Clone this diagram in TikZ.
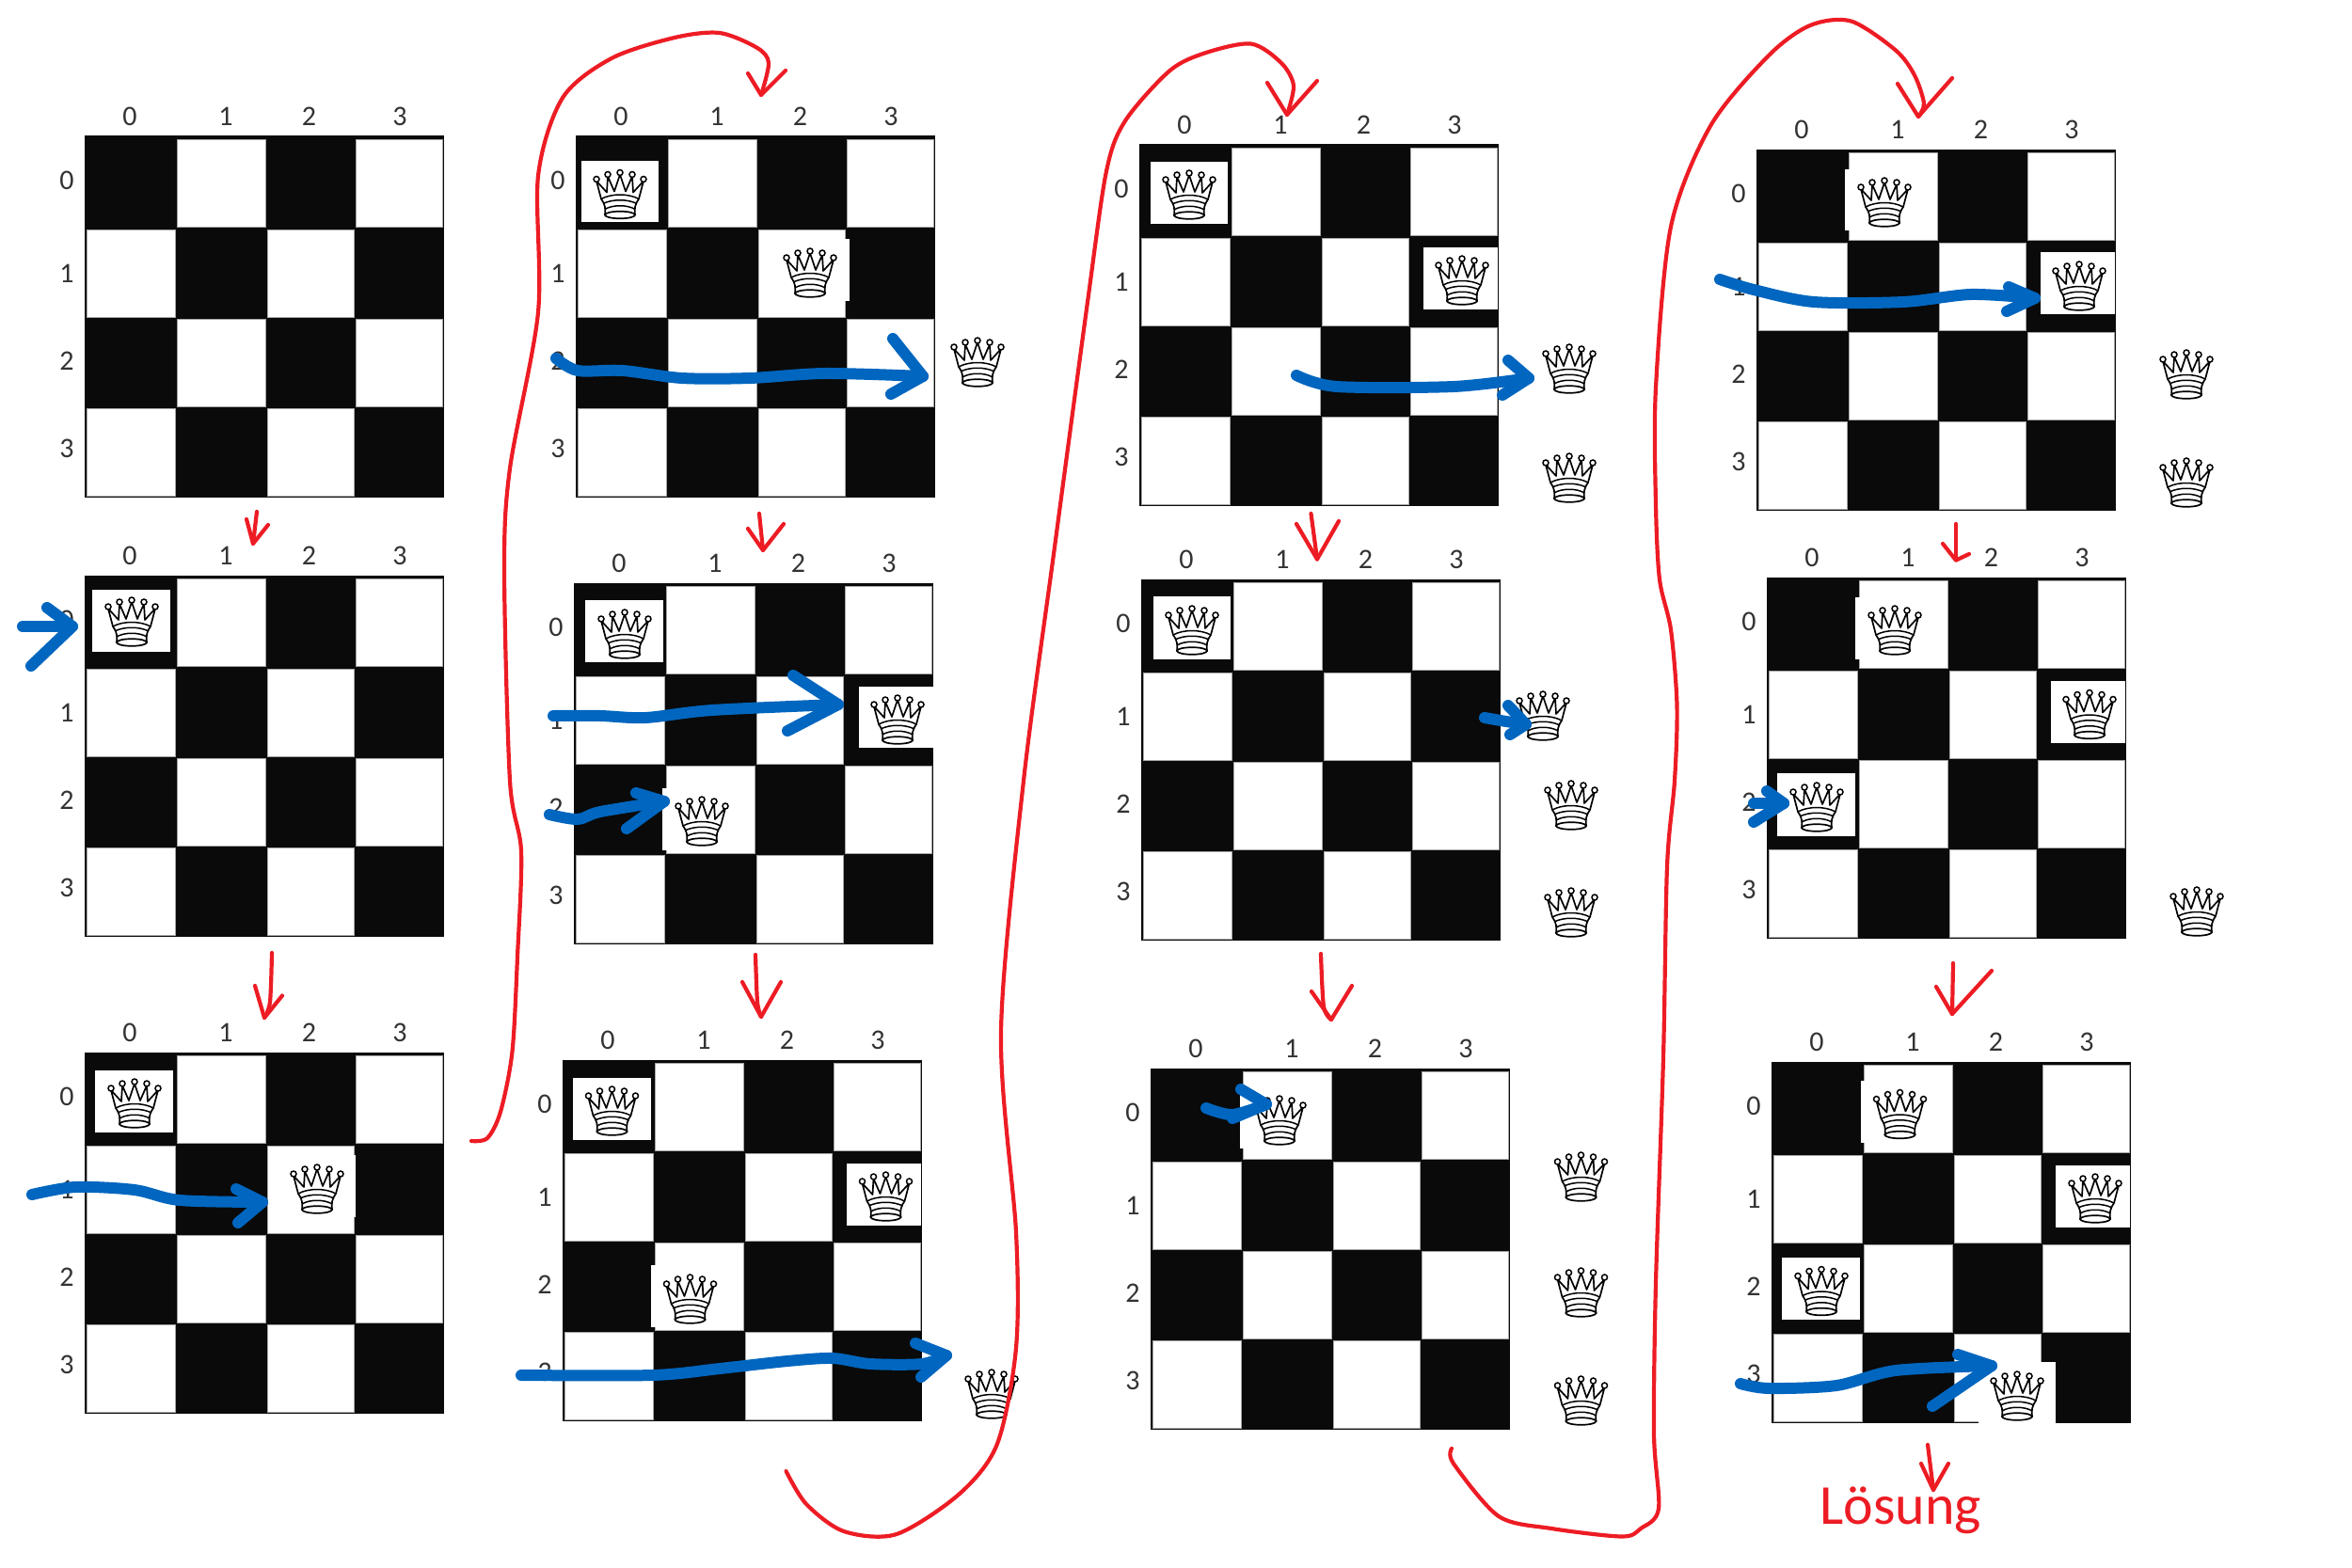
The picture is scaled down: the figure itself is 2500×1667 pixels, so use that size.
\documentclass[tikz,border=0pt]{standalone}
\usepackage{fontspec}
\setmainfont{Carlito}
\usepackage{tikz}
\definecolor{boardblack}{HTML}{0A0A0A}
\definecolor{inkred}{HTML}{ED1C24}
\definecolor{inkblue}{HTML}{0066BF}
\tikzset{
    boardframe/.style = {draw=boardblack, fill=boardblack, line width=1pt, minimum width=381pt, minimum height=383pt, inner sep=0pt, outer sep=0pt},
    whitecell/.style = {fill=white, draw=black!35, line width=0.8pt},
    digit/.style = {font=\fontsize{30}{30}\selectfont, text=black!80, inner sep=0pt},
    tile/.style = {fill=white},
    redpen/.style = {draw=inkred, line width=4.2pt, line cap=round, line join=round},
    bluepen/.style = {draw=inkblue, line width=12pt, line cap=round, line join=round},
    queen/.pic = {
        \draw[line width=1.7pt, fill=white, line join=round]
            (-20,5) -- (-25,-14) -- (-14,-2) -- (-13,-19) -- (-6,-3) -- (0,-21) -- (6,-3) -- (13,-19) -- (14,-2) -- (25,-14) -- (20,5)
            .. controls (16,10) and (15,16) .. (16,22) -- (-16,22) .. controls (-15,16) and (-16,10) .. (-20,5) -- cycle;
        \foreach \bx/\by in {-25/-16,-13/-21,0/-23,13/-21,25/-16}
            \draw[line width=1.5pt, fill=white] (\bx,\by) circle (3);
        \draw[line width=1.5pt] (-20,5) .. controls (-9,-1) and (9,-1) .. (20,5);
        \draw[line width=1.5pt] (-18,10) .. controls (-8,5) and (8,5) .. (18,10);
        \draw[line width=1.5pt] (-16,16) .. controls (-8,11) and (8,11) .. (16,16);
        \draw[line width=1.7pt, fill=white] (0,22) ellipse (16 and 3.8);
    },
}
\newcommand\drawboard[3]{
    \begin{scope}[shift={(#2,#3)}]
        \node[boardframe] (#1) at (190.5,191.5) {};
        \foreach \xa/\ya/\xb/\yb in {98/3/192/96.5,288/3/380/96.5,2/99/96/192,194/99/286/192,98/194/192/287,288/194/380/287,2/289/96/382,194/289/286/382}
            \path[whitecell] (\xa,\ya) rectangle (\xb,\yb);
        \foreach \col/\cx in {0/48,1/150,2/238.5,3/335}
            \node[digit] (#1c\col) at (\cx,-21) {\col};
        \foreach \row/\ry in {0/47,1/145.5,2/238.5,3/331.5}
            \node[digit] (#1r\row) at (-19,\ry) {\row};
    \end{scope}
}
\newcommand\handarrow[7]{
    \coordinate (#2from) at #3;
    \coordinate (#2to) at #6;
    \coordinate (#2a) at #5;
    \coordinate (#2b) at #7;
    \draw[#1] plot[smooth] coordinates {(#2from) #4 (#2to)};
    \draw[#1] (#2a) -- (#2to) -- (#2b);
}

\begin{document}
\begin{tikzpicture}[x=1pt,y=-1pt]
    \useasboundingbox (0,0) rectangle (2500,1667);
    % boards
    \drawboard{bone}{90}{145}
    \drawboard{btwo}{90}{612}
    \drawboard{bthree}{90}{1119}
    \drawboard{bfour}{612}{145}
    \drawboard{bfive}{610}{620}
    \drawboard{bsix}{598}{1127}
    \drawboard{bseven}{1211}{154}
    \drawboard{beight}{1213}{616}
    \drawboard{bnine}{1223}{1136}
    \drawboard{bten}{1867}{159}
    \drawboard{beleven}{1878}{614}
    \drawboard{btwelve}{1883}{1129}
    % white patches behind the queens
    \foreach \xa/\ya/\xb/\yb in {98/627/181/692.5,101/1137.5/184/1204,300/1228/378/1294,
        618/171/700/236,845/254/902.5/320,622/638/705/704,913/729.5/992/795,704/838/760/904,
        609/1145.5/692/1212,900/1237/979/1303,692/1345/750/1411,
        1223/172/1305/238,1513/263/1592/329,1226/634/1308/700.5,1318/1157/1350/1221,
        1961/179.5/2010/245,2169/268/2248/334,1972/635/2020/700.5,2180/724/2259/790,1889/822/1972/889,
        1978/1149/2030/1215,2185/1239/2264/1305,1894/1337/1977/1403,2103/1448/2185/1515}
        \fill[tile] (\xa,\ya) rectangle (\xb,\yb);
    % queens
    \foreach \qx/\qy in {140/661,143/1173,337/1264,659/206.5,861/290,1039/385,664/674,954/765,746/873,
        650.5/1181,941.5/1272,733.5/1381,1054/1482,1264/207,1554/298,1668/392,1668/508,
        1267/670,1640/761,1670/856,1670/970,1360/1191,1680.5/1251,1680.5/1374,1680.5/1489,
        2003/215,2210/304,2324/398,2324/513,2014/670,2221/759.5,1931/858,2335/969,
        2019.5/1184.5,2227/1274,1936/1372.5,2144/1484}
        \pic at (\qx,\qy) {queen};
    % red steps
    \handarrow{redpen}{rone}{(273,544)}{}{(262,552)}{(269,578)}{(285,558)}
    \handarrow{redpen}{rtwo}{(289,1013)}{(287,1065)}{(271,1048)}{(281,1082)}{(300,1058.5)}
    \handarrow{redpen}{rthree}{(501,1213)}{(518,1210) (532,1182) (544.5,1118) (550,1017) (554,905) (542,830) (536,605) (542,498) (572,332) (572,187) (598,104) (650,62) (717,40) (765,35) (805,51) (817,67)}{(795,78)}{(809,101)}{(835,75)}
    \handarrow{redpen}{rfour}{(807,546)}{}{(795,562)}{(811,585)}{(833,557)}
    \handarrow{redpen}{rfive}{(803,1015)}{(805,1065)}{(789,1044)}{(809,1081)}{(830,1044)}
    \handarrow{redpen}{rsix}{(835.5,1564)}{(857,1599) (897,1628) (953,1631) (1020,1588) (1060,1535) (1080,1433) (1080,1310) (1064,1097) (1088,830) (1120,589) (1156,321) (1176,182) (1196,128.5) (1243.5,75) (1282,56) (1330,46.6) (1362,67) (1375,91)}{(1347,88)}{(1368,122)}{(1400,86)}
    \handarrow{redpen}{rseven}{(1393.5,546)}{}{(1378,557)}{(1400,594.5)}{(1423,554)}
    \handarrow{redpen}{reight}{(1404,1014)}{(1407,1070)}{(1394,1054)}{(1415,1084)}{(1437,1048)}
    \handarrow{redpen}{rnine}{(1543,1540)}{(1545,1556) (1593,1612) (1649,1625) (1724,1633.5) (1744,1625) (1763,1604) (1758,1524) (1760,1364) (1768,1124) (1772,921) (1780,830) (1782.5,750) (1776,669.5) (1764,616) (1760,536) (1760,412) (1776,241) (1818,134) (1880,59) (1924,27) (1967.5,22.5) (2015,53.5) (2035,80) (2045,110)}{(2017,89)}{(2039,124)}{(2075,83)}
    \handarrow{redpen}{rten}{(2079,557)}{}{(2065,578)}{(2079,595.6)}{(2093,589)}
    \handarrow{redpen}{releven}{(2076,1024)}{}{(2058,1049)}{(2075,1078)}{(2117,1032)}
    \handarrow{redpen}{rtwelve}{(2049,1536)}{}{(2042,1556)}{(2055,1584)}{(2071,1556)}
    \node[anchor=base west, inner sep=0pt, text=inkred, font=\fontsize{60}{60}\selectfont] (solution) at (1934,1620) {Lösung};
    % blue moves
    \handarrow{bluepen}{aone}{(24,666)}{}{(50,646)}{(77,666)}{(33,708)}
    \handarrow{bluepen}{atwo}{(34,1270)}{(80,1262) (143,1265) (191,1276)}{(251,1264)}{(279,1278)}{(253,1300)}
    \handarrow{bluepen}{athree}{(591,381)}{(614,394) (662,394) (725,402) (797,402) (877,397)}{(949,360)}{(981,400)}{(947,419)}
    \handarrow{bluepen}{afour}{(588,761)}{(638,761) (686,763) (757,755)}{(843,718)}{(891,749)}{(837,777)}
    \handarrow{bluepen}{afive}{(584,866)}{(614,871) (638,863)}{(676,843)}{(706,852)}{(666,881)}
    \handarrow{bluepen}{asix}{(554,1462)}{(694,1462) (765,1455) (837,1447) (885,1444) (925,1450) (980,1450)}{(973,1428)}{(1006,1441)}{(979,1464)}
    \handarrow{bluepen}{aseven}{(1378,399)}{(1421,411) (1545,411)}{(1603,383)}{(1625,402)}{(1597,420)}
    \handarrow{bluepen}{aeight}{(1578,763)}{(1601,767)}{(1603,750)}{(1622,770)}{(1605,781)}
    \handarrow{bluepen}{anine}{(1282,1178)}{(1310,1185)}{(1319,1158)}{(1346,1174)}{(1310,1189)}
    \handarrow{bluepen}{aten}{(1828,297)}{(1864,308) (1928,321) (2023,321) (2095,313)}{(2135,305)}{(2163,317)}{(2133,331)}
    \handarrow{bluepen}{aeleven}{(1864,854)}{}{(1878,841)}{(1896,854)}{(1864,874)}
    \handarrow{bluepen}{atwelve}{(1850,1471)}{(1880,1476) (1952,1473) (2015,1457)}{(2081,1440)}{(2117,1452)}{(2054,1495)}
\end{tikzpicture}
\end{document}
